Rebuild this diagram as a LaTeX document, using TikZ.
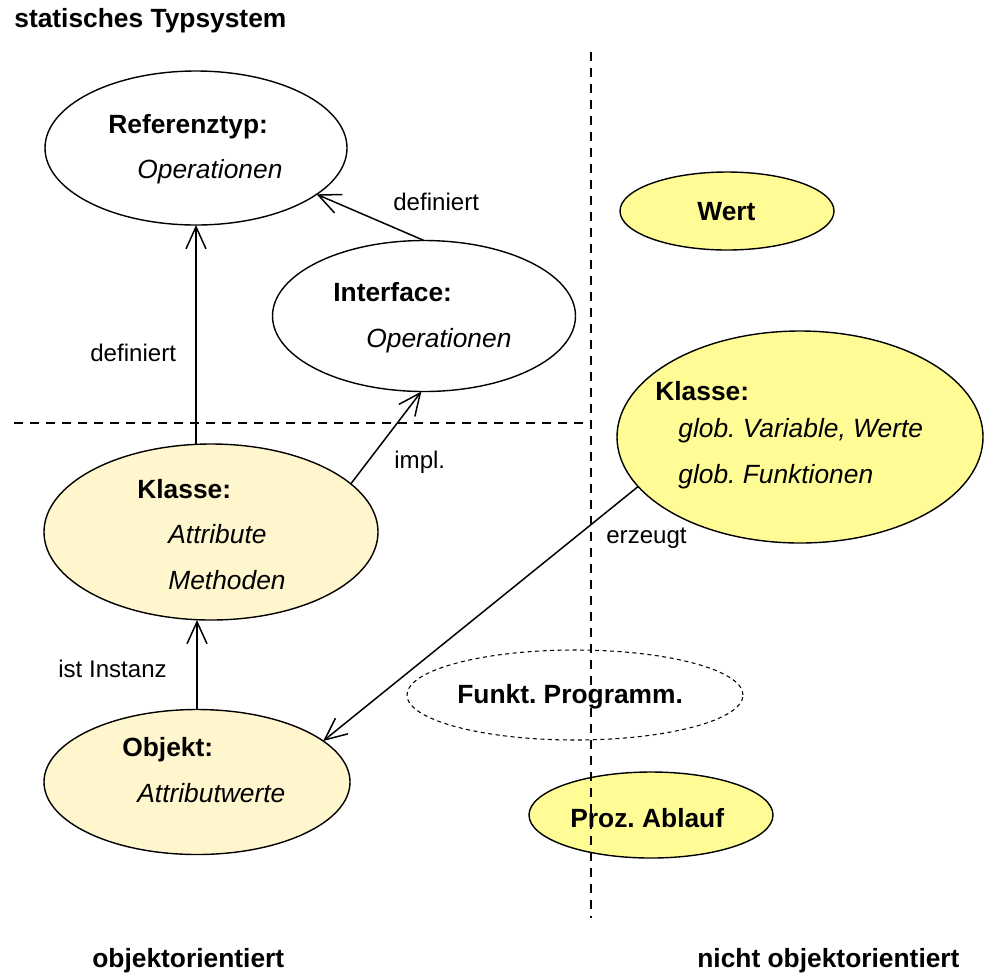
\documentclass[tikz,border=0pt]{standalone}
\usepackage{fontspec}
\setmainfont{Liberation Sans}
\usetikzlibrary{arrows.meta, shapes.geometric}
\definecolor{blassgelb}{RGB}{255,246,206}
\definecolor{hellgelb}{RGB}{255,252,150}
\frenchspacing

\begin{document}
\begin{tikzpicture}[
    x=0.2mm, y=-0.2mm,
    font=\fontsize{15}{18}\selectfont,
    oval/.style={ellipse, draw, line width=0.8pt, inner sep=0pt, outer sep=0pt},
    kopf/.style={anchor=base west, inner sep=0pt, font=\fontsize{15}{18}\selectfont\bfseries},
    eintrag/.style={anchor=base west, inner sep=0pt, font=\fontsize{15}{18}\selectfont\itshape},
    beschr/.style={anchor=base west, inner sep=0pt, font=\fontsize{13.7}{16}\selectfont},
    pfeil/.style={-{Straight Barb[length=4.4mm, width=4mm]}, line width=0.85pt},
    trenn/.style={dash pattern=on 1.8mm off 1.4mm, line width=0.8pt}
]
\useasboundingbox (0,0) rectangle (986,975);
% ellipsen
\node[oval, minimum width=60.4mm, minimum height=30.8mm] (reftyp) at (196,148) {};
\node[oval, minimum width=60.6mm, minimum height=30.2mm] (interface) at (424,316) {};
\node[oval, fill=hellgelb, minimum width=42.8mm, minimum height=15.6mm] (wert) at (727,211) {};
\node[oval, fill=hellgelb, minimum width=73.2mm, minimum height=42.4mm] (klasseR) at (800,437) {};
\node[oval, fill=blassgelb, minimum width=66.8mm, minimum height=35.2mm] (klasseL) at (211,532) {};
\node[oval, fill=blassgelb, minimum width=61.2mm, minimum height=29mm] (objekt) at (197,782) {};
\node[oval, line width=0.6pt, dash pattern=on 0.8mm off 0.7mm, minimum width=67.2mm, minimum height=18mm] (funkt) at (575,695) {};
\node[oval, fill=hellgelb, minimum width=48.8mm, minimum height=17.2mm] (proz) at (651,815) {};
% trennlinien
\coordinate (oben) at (591,52);
\coordinate (unten) at (591,918);
\coordinate (links) at (14,423);
\draw[trenn] (oben) -- (unten);
\draw[trenn] (links) -- (links -| oben);
% texte
\node[kopf] (titel) at (14,27) {statisches Typsystem};
\node[kopf] (reftyp-k) at (108,133) {Referenztyp:};
\node[eintrag] (reftyp-o) at (137,178) {Operationen};
\node[kopf] (interface-k) at (333,301) {Interface:};
\node[eintrag] (interface-o) at (366,347) {Operationen};
\node[kopf] (wert-k) at (697,220) {Wert};
\node[kopf] (klasseR-k) at (655,400) {Klasse:};
\node[eintrag] (klasseR-v) at (678,437) {glob. Variable, Werte};
\node[eintrag] (klasseR-f) at (678,483) {glob. Funktionen};
\node[kopf] (klasseL-k) at (137,498) {Klasse:};
\node[eintrag] (klasseL-a) at (168,543) {Attribute};
\node[eintrag] (klasseL-m) at (168,589) {Methoden};
\node[kopf] (objekt-k) at (122,756) {Objekt:};
\node[eintrag] (objekt-a) at (137,802) {Attributwerte};
\node[kopf] (funkt-k) at (457,703) {Funkt. Programm.};
\node[kopf] (proz-k) at (570,827) {Proz. Ablauf};
\node[kopf] (oo) at (92,967) {objektorientiert};
\node[kopf] (nichtoo) at (697,967) {nicht objektorientiert};
% beziehungen
\draw[pfeil] (klasseL.north -| reftyp.south) -- (reftyp.south);
\draw[pfeil] (interface.north) -- (reftyp.-21);
\draw[pfeil] (klasseL.19) -- (interface.268);
\draw[pfeil] (objekt.north) -- (objekt.north |- klasseL.south);
\draw[pfeil] (klasseR.197) -- (objekt.18);
\node[beschr] (l-def1) at (90,361) {definiert};
\node[beschr] (l-def2) at (393,210) {definiert};
\node[beschr] (l-impl) at (394,468) {impl.};
\node[beschr] (l-erz) at (606,543) {erzeugt};
\node[beschr] (l-inst) at (58,677) {ist Instanz};
\end{tikzpicture}
\end{document}
